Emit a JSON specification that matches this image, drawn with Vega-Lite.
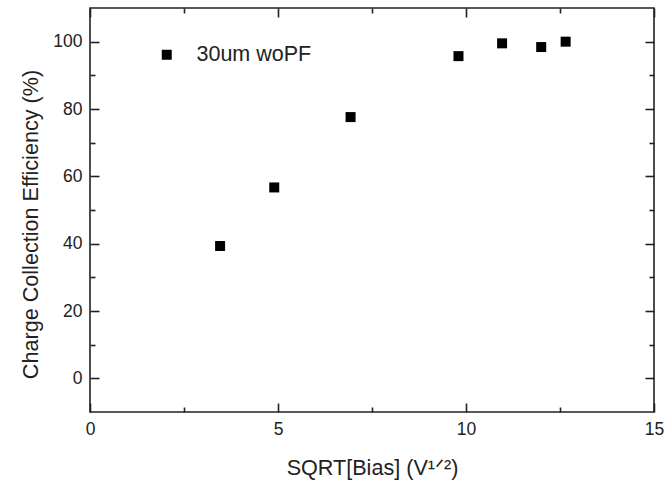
{
  "$schema": "https://vega.github.io/schema/vega-lite/v6.json",
  "width": 564,
  "height": 404,
  "autosize": {"type": "none"},
  "padding": {"left": 90, "top": 8, "right": 12, "bottom": 69},
  "background": "white",
  "config": {
    "font": "Liberation Sans",
    "view": {"stroke": "#222", "strokeWidth": 1.6},
    "axis": {
      "domain": false,
      "grid": false,
      "tickColor": "#222",
      "tickWidth": 1.6,
      "labelColor": "#222",
      "titleColor": "#222",
      "labelFont": "Liberation Sans",
      "titleFont": "Liberation Sans",
      "labelFontSize": 17.5,
      "titleFontSize": 21.6,
      "titleFontWeight": "normal",
      "labelFlush": false
    },
    "legend": {
      "labelFont": "Liberation Sans",
      "labelFontSize": 21.5,
      "labelColor": "#222",
      "symbolSize": 100,
      "symbolType": "square",
      "symbolStrokeWidth": 0
    }
  },
  "data": {
    "values": [
      {"sqrt_bias": 3.46, "cce": 39.3, "series": "30um woPF"},
      {"sqrt_bias": 4.90, "cce": 56.7, "series": "30um woPF"},
      {"sqrt_bias": 6.93, "cce": 77.6, "series": "30um woPF"},
      {"sqrt_bias": 9.80, "cce": 95.7, "series": "30um woPF"},
      {"sqrt_bias": 10.96, "cce": 99.5, "series": "30um woPF"},
      {"sqrt_bias": 12.0, "cce": 98.4, "series": "30um woPF"},
      {"sqrt_bias": 12.65, "cce": 100.0, "series": "30um woPF"}
    ]
  },
  "layer": [
    {
      "mark": {"type": "point", "shape": "square", "filled": true, "size": 100, "opacity": 1},
      "encoding": {
        "x": {"field": "sqrt_bias", "type": "quantitative",
          "scale": {"domain": [0, 15], "nice": false, "zero": false},
          "axis": {"orient": "bottom", "values": [0, 2.5, 5, 7.5, 10, 12.5, 15],
            "tickColor": "#222", "tickWidth": 1.6,
            "tickSize": {"condition": {"test": "datum.value % 5 === 0", "value": -9}, "value": -5},
            "labelExpr": "datum.value % 5 === 0 ? datum.label : ''",
            "labelPadding": 17,
            "title": "SQRT[Bias] (V¹ᐟ²)", "titleBaseline": "alphabetic", "titleY": 62}},
        "y": {"field": "cce", "type": "quantitative",
          "scale": {"domain": [-10, 110], "nice": false, "zero": false},
          "axis": {"orient": "left", "values": [0, 10, 20, 30, 40, 50, 60, 70, 80, 90, 100],
            "tickColor": "#222", "tickWidth": 1.6,
            "tickSize": {"condition": {"test": "datum.value % 20 === 0", "value": -9}, "value": -5},
            "labelExpr": "datum.value % 20 === 0 ? datum.label : ''",
            "labelPadding": 17,
            "title": "Charge Collection Efficiency (%)", "titleBaseline": "middle", "titleX": -59, "titleY": 216}},
        "color": {"field": "series", "type": "nominal", "scale": {"range": ["#000000"]},
          "legend": {"title": null, "orient": "none", "legendX": 66, "legendY": 36, "labelOffset": 19}}
      }
    },
    {
      "mark": {"type": "point", "opacity": 0},
      "encoding": {
        "x": {"field": "sqrt_bias", "type": "quantitative",
          "axis": {"orient": "top", "values": [0, 5, 10, 15],
            "tickColor": "#222", "tickWidth": 1.6, "tickSize": -9,
            "labels": false, "title": null}},
        "y": {"field": "cce", "type": "quantitative",
          "axis": {"orient": "right", "values": [0, 20, 40, 60, 80, 100],
            "tickColor": "#222", "tickWidth": 1.6, "tickSize": -9,
            "labels": false, "title": null}}
      }
    },
    {
      "mark": {"type": "point", "opacity": 0},
      "encoding": {
        "x": {"field": "sqrt_bias", "type": "quantitative",
          "axis": {"orient": "top", "values": [2.5, 7.5, 12.5],
            "tickColor": "#222", "tickWidth": 1.6, "tickSize": -5,
            "labels": false, "title": null}},
        "y": {"field": "cce", "type": "quantitative",
          "axis": {"orient": "right", "values": [10, 30, 50, 70, 90],
            "tickColor": "#222", "tickWidth": 1.6, "tickSize": -5,
            "labels": false, "title": null}}
      }
    }
  ],
  "resolve": {"axis": {"x": "independent", "y": "independent"}}
}
